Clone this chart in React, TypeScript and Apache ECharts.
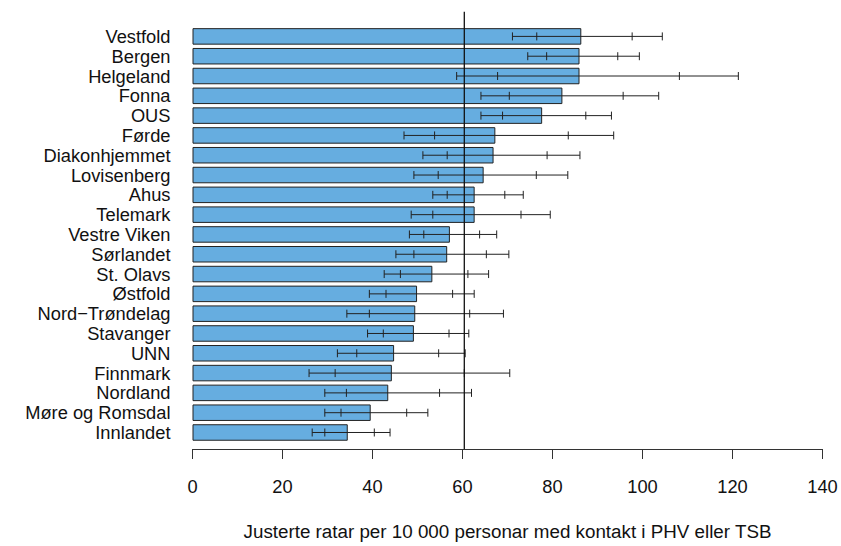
import React, { useEffect, useRef } from "react";
import * as echarts from "echarts";

// Health trusts, ordered from highest to lowest adjusted rate
const categories = [
  "Vestfold",
  "Bergen",
  "Helgeland",
  "Fonna",
  "OUS",
  "Førde",
  "Diakonhjemmet",
  "Lovisenberg",
  "Ahus",
  "Telemark",
  "Vestre Viken",
  "Sørlandet",
  "St. Olavs",
  "Østfold",
  "Nord−Trøndelag",
  "Stavanger",
  "UNN",
  "Finnmark",
  "Nordland",
  "Møre og Romsdal",
  "Innlandet",
];

// Adjusted rates per 10 000 persons
const rates = [
  86.4, 86.0, 86.0, 82.2, 77.7, 67.3, 66.9, 64.7, 62.7, 62.7, 57.2, 56.6, 53.3,
  49.9, 49.5, 49.2, 44.8, 44.3, 43.5, 39.6, 34.5,
];

// Interval limits: outer (wide) and inner (narrow) bounds
const lowOuter = [
  71.1, 74.5, 58.7, 64.1, 64.1, 47.0, 51.2, 49.2, 53.4, 48.6, 48.2, 45.2, 42.6,
  39.3, 34.3, 38.9, 32.2, 25.9, 29.4, 29.4, 26.6,
];
const lowInner = [
  76.5, 78.7, 67.8, 70.4, 68.9, 53.8, 56.6, 54.6, 56.6, 53.4, 51.4, 49.2, 46.2,
  43.0, 39.3, 42.4, 36.5, 31.7, 34.2, 33.0, 29.4,
];
const highInner = [
  97.7, 94.5, 108.2, 95.7, 87.4, 83.5, 78.8, 76.4, 69.4, 73.0, 63.8, 65.3, 61.2,
  57.8, 61.6, 57.0, 54.7, 60.4, 54.9, 47.6, 40.4,
];
const highOuter = [
  104.4, 99.3, 121.3, 103.6, 93.1, 93.6, 86.1, 83.4, 73.5, 79.5, 67.6, 70.3,
  65.8, 62.6, 69.1, 61.4, 60.6, 70.5, 62.0, 52.3, 43.9,
];

// National reference rate
const referenceRate = 60.4;

// Axis ticks
const xMin = 0;
const xMax = 140;
const xStep = 20;

const axisTitle = "Justerte ratar per 10 000 personar med kontakt i PHV eller TSB";

const FONT = '"Liberation Sans", Arial, sans-serif';
const FONT_SIZE = 18.3;

export default function App() {
  const ref = useRef<HTMLDivElement>(null);

  useEffect(() => {
    if (!ref.current) return;
    const chart = echarts.init(ref.current, null, { renderer: "svg" });

    const intervalData = categories.map((_, i) => [
      i,
      lowOuter[i],
      lowInner[i],
      highInner[i],
      highOuter[i],
    ]);

    const option = {
      animation: false,
      backgroundColor: "#ffffff",
      grid: [
        { left: 192.5, right: 18.5, top: 26.5, bottom: 103.6 },
        { left: 192.5, right: 18.5, top: 11.7, bottom: 88 },
      ],
      xAxis: [
        {
          gridIndex: 0,
          type: "value",
          min: xMin,
          max: xMax,
          show: false,
        },
        {
          gridIndex: 1,
          type: "value",
          min: xMin,
          max: xMax,
          interval: xStep,
          axisLine: { show: true, lineStyle: { color: "#333", width: 1 } },
          axisTick: {
            show: true,
            length: 10,
            lineStyle: { color: "#333", width: 1 },
          },
          splitLine: { show: false },
          axisLabel: {
            fontSize: FONT_SIZE,
            color: "#111",
            margin: 28,
            fontFamily: FONT,
          },
          name: axisTitle,
          nameLocation: "middle",
          nameGap: 73,
          nameTextStyle: { fontSize: 18.8, color: "#111", fontFamily: FONT },
        },
      ],
      yAxis: [
        {
          gridIndex: 0,
          type: "category",
          data: categories,
          inverse: true,
          axisLine: { show: false },
          axisTick: { show: false },
          splitLine: { show: false },
          axisLabel: {
            interval: 0,
            fontSize: FONT_SIZE,
            color: "#111",
            margin: 22,
            fontFamily: FONT,
          },
        },
        {
          gridIndex: 1,
          type: "value",
          min: 0,
          max: 1,
          show: false,
        },
      ],
      series: [
        {
          type: "bar",
          xAxisIndex: 0,
          yAxisIndex: 0,
          data: rates,
          barCategoryGap: "16.7%",
          itemStyle: {
            color: "#66ADE0",
            borderColor: "#222",
            borderWidth: 1,
          },
          z: 2,
        },
        {
          type: "custom",
          xAxisIndex: 0,
          yAxisIndex: 0,
          data: intervalData,
          encode: { x: [1, 2, 3, 4], y: 0 },
          z: 3,
          renderItem: (params: any, api: any) => {
            const cat = api.value(0);
            const pts = [1, 2, 3, 4].map((d) => api.coord([api.value(d), cat]));
            const y = pts[0][1];
            const h = 4;
            const style = { stroke: "#222", lineWidth: 1 };
            const children: any[] = [
              {
                type: "line",
                shape: { x1: pts[0][0], y1: y, x2: pts[3][0], y2: y },
                style,
              },
            ];
            pts.forEach((p) => {
              children.push({
                type: "line",
                shape: { x1: p[0], y1: y - h, x2: p[0], y2: y + h },
                style,
              });
            });
            return { type: "group", children };
          },
        },
        {
          type: "line",
          xAxisIndex: 1,
          yAxisIndex: 1,
          data: [
            [referenceRate, 0],
            [referenceRate, 1],
          ],
          symbol: "none",
          lineStyle: { color: "#111", width: 1.3 },
          z: 4,
        },
      ],
    };

    chart.setOption(option as any);
    return () => chart.dispose();
  }, []);

  return (
    <div
      ref={ref}
      style={{ position: "fixed", left: 0, top: 0, width: 841, height: 546 }}
    />
  );
}
